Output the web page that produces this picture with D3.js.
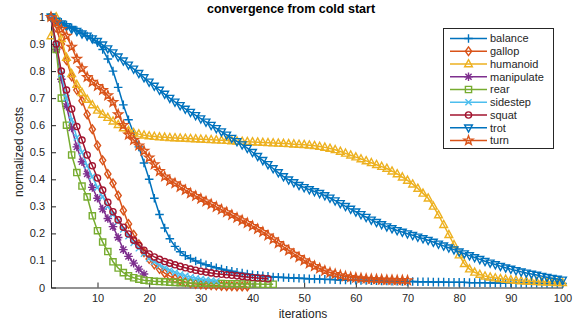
<!DOCTYPE html>
<html>
<head>
<meta charset="utf-8">
<script src="https://cdn.jsdelivr.net/npm/d3@7"></script>
<style>
  body { margin: 0; background: #fff; }
  svg text { font-family: "Liberation Sans", Arial, Helvetica, sans-serif; }
</style>
</head>
<body>
<div id="chart"></div>
<script>
// series values, one array per task (index 0 = iteration 1)
const balance = [
  1.0, 0.99, 0.98, 0.97, 0.96, 0.95, 0.94, 0.93, 0.92, 0.905,
  0.88, 0.845, 0.80, 0.74, 0.675, 0.62, 0.57, 0.52, 0.46, 0.40,
  0.33, 0.27, 0.22, 0.18, 0.152, 0.132, 0.118, 0.107, 0.098, 0.09,
  0.084, 0.078, 0.073, 0.068, 0.064, 0.06, 0.056, 0.053, 0.05, 0.047,
  0.045, 0.043, 0.041, 0.039, 0.038, 0.037, 0.036, 0.035, 0.034, 0.033,
  0.032, 0.032, 0.031, 0.030, 0.030, 0.029, 0.028, 0.028, 0.027, 0.027,
  0.026, 0.026, 0.025, 0.025, 0.024, 0.024, 0.023, 0.023, 0.022, 0.022,
  0.022, 0.021, 0.021, 0.021, 0.020, 0.020, 0.020, 0.019, 0.019, 0.019,
  0.019, 0.018, 0.018, 0.018, 0.018, 0.017, 0.017, 0.017, 0.017, 0.017,
  0.016, 0.016, 0.016, 0.016, 0.016, 0.016, 0.015, 0.015, 0.015, 0.015
];
const gallop = [
  1.0, 0.96, 0.9, 0.84, 0.78, 0.73, 0.69, 0.64, 0.585, 0.525,
  0.47, 0.42, 0.385, 0.34, 0.285, 0.235, 0.195, 0.16, 0.13, 0.105,
  0.085, 0.068, 0.053, 0.042, 0.033, 0.026, 0.02, 0.016, 0.013, 0.011,
  0.009, 0.008, 0.007, 0.006, 0.005, 0.005, 0.004, 0.004, 0.004
];
const humanoid = [
  0.93, 1.0, 0.92, 0.85, 0.79, 0.75, 0.72, 0.695, 0.675, 0.655,
  0.64, 0.628, 0.615, 0.602, 0.59, 0.58, 0.572, 0.567, 0.563, 0.56,
  0.558, 0.556, 0.555, 0.554, 0.553, 0.552, 0.551, 0.55, 0.549, 0.548,
  0.547, 0.546, 0.545, 0.544, 0.543, 0.542, 0.541, 0.54, 0.539, 0.538,
  0.537, 0.536, 0.535, 0.534, 0.533, 0.532, 0.531, 0.53, 0.529, 0.528,
  0.526, 0.524, 0.521, 0.518, 0.514, 0.509, 0.503, 0.496, 0.489, 0.482,
  0.475, 0.468, 0.461, 0.454, 0.447, 0.44, 0.43, 0.42, 0.408, 0.396,
  0.382, 0.366, 0.348, 0.33, 0.30, 0.268, 0.232, 0.195, 0.158, 0.12,
  0.088, 0.068, 0.056, 0.048, 0.042, 0.038, 0.035, 0.032, 0.03, 0.028,
  0.026, 0.024, 0.023, 0.022, 0.021, 0.02, 0.019, 0.019, 0.018, 0.018
];
const manipulate = [
  1.0, 0.88, 0.77, 0.67, 0.59, 0.52, 0.465, 0.42, 0.37, 0.33,
  0.29, 0.255, 0.225, 0.185, 0.14, 0.115, 0.09, 0.068, 0.05
];
const rear = [
  1.0, 0.88, 0.7, 0.6, 0.49, 0.425, 0.375, 0.335, 0.265, 0.21,
  0.168, 0.133, 0.095, 0.072, 0.055, 0.043, 0.036, 0.031, 0.027, 0.025,
  0.023, 0.022, 0.021, 0.02, 0.019, 0.018, 0.018, 0.017, 0.017, 0.016,
  0.016, 0.015, 0.015, 0.015, 0.014, 0.014, 0.014, 0.013, 0.013, 0.013,
  0.013, 0.012, 0.012, 0.012
];
const sidestep = [
  1.0, 0.9, 0.79, 0.7, 0.62, 0.555, 0.5, 0.45, 0.41, 0.37,
  0.335, 0.3, 0.27, 0.245, 0.215, 0.19, 0.165, 0.145, 0.125, 0.108,
  0.095, 0.083, 0.073, 0.064, 0.056, 0.049, 0.043, 0.038, 0.034, 0.031,
  0.028, 0.026, 0.024
];
const squat = [
  1.0, 0.9, 0.8, 0.73, 0.66, 0.595, 0.545, 0.49, 0.45, 0.405,
  0.36, 0.315, 0.28, 0.25, 0.223, 0.198, 0.175, 0.155, 0.138, 0.124,
  0.113, 0.104, 0.096, 0.09, 0.084, 0.078, 0.073, 0.068, 0.064, 0.06,
  0.057, 0.054, 0.051, 0.049, 0.047, 0.045, 0.043, 0.041, 0.039, 0.037,
  0.035, 0.034, 0.032
];
const trot = [
  1.0, 0.985, 0.975, 0.965, 0.955, 0.947, 0.938, 0.93, 0.92, 0.91,
  0.897, 0.883, 0.868, 0.853, 0.838, 0.823, 0.808, 0.792, 0.776, 0.76,
  0.745, 0.73, 0.715, 0.70, 0.686, 0.673, 0.66, 0.648, 0.636, 0.624,
  0.612, 0.60, 0.588, 0.576, 0.564, 0.552, 0.54, 0.528, 0.515, 0.50,
  0.485, 0.47, 0.455, 0.44, 0.425, 0.41, 0.398, 0.388, 0.378, 0.37,
  0.362, 0.355, 0.348, 0.34, 0.331, 0.321, 0.311, 0.30, 0.29, 0.28,
  0.27, 0.26, 0.25, 0.241, 0.233, 0.225, 0.218, 0.211, 0.205, 0.199,
  0.193, 0.187, 0.181, 0.175, 0.168, 0.161, 0.154, 0.147, 0.14, 0.132,
  0.125, 0.118, 0.111, 0.104, 0.097, 0.091, 0.085, 0.079, 0.073, 0.068,
  0.063, 0.058, 0.054, 0.05, 0.046, 0.042, 0.038, 0.034, 0.031, 0.028
];
const turn = [
  1.0, 0.98, 0.955, 0.93, 0.89, 0.845, 0.81, 0.778, 0.76, 0.745,
  0.73, 0.71, 0.685, 0.64, 0.6, 0.565, 0.545, 0.525, 0.505, 0.48,
  0.455, 0.43, 0.41, 0.395, 0.385, 0.372, 0.36, 0.348, 0.338, 0.328,
  0.318, 0.308, 0.298, 0.288, 0.278, 0.268, 0.258, 0.248, 0.238, 0.227,
  0.216, 0.205, 0.192, 0.178, 0.164, 0.15, 0.137, 0.124, 0.112, 0.1,
  0.089, 0.079, 0.07, 0.062, 0.055, 0.05, 0.045, 0.041, 0.038, 0.036,
  0.034, 0.032, 0.031, 0.03, 0.029, 0.028, 0.028, 0.027, 0.027, 0.026
];

const seriesNames = ["balance", "gallop", "humanoid", "manipulate", "rear", "sidestep", "squat", "trot", "turn"];
const seriesValues = [balance, gallop, humanoid, manipulate, rear, sidestep, squat, trot, turn];
const seriesColors = ["#0072BD", "#D95319", "#EDB120", "#7E2F8E", "#77AC30", "#4DBEEE", "#A2142F", "#0072BD", "#D95319"];
const seriesMarkers = ["plus", "diamond", "triangleUp", "asterisk", "square", "cross", "circle", "triangleDown", "star"];

const xTicks = [10, 20, 30, 40, 50, 60, 70, 80, 90, 100];
const yTicks = [0, 0.1, 0.2, 0.3, 0.4, 0.5, 0.6, 0.7, 0.8, 0.9, 1];

const width = 585, height = 328;
const plot = { left: 51, right: 562.5, top: 17, bottom: 287.5 };
const axisColor = "#262626";
const markerSize = 4.3;

const svg = d3.select("#chart").append("svg")
    .attr("width", width)
    .attr("height", height);

const x = d3.scaleLinear().domain([1, 100]).range([plot.left, plot.right]);
const y = d3.scaleLinear().domain([0, 1]).range([plot.bottom, plot.top]);

/*
 *  Marker shapes, roughly like the MATLAB ones.
 */
function markerPath(type, r) {
    const d = r * 0.72;
    switch(type) {
        case "plus": return `M${-r},0H${r}M0,${-r}V${r}`;
        case "diamond": return `M0,${-r}L${r * 0.72},0L0,${r}L${-r * 0.72},0Z`;
        case "triangleUp": return `M0,${-r}L${r * 0.9},${r * 0.65}L${-r * 0.9},${r * 0.65}Z`;
        case "triangleDown": return `M0,${r}L${r * 0.9},${-r * 0.65}L${-r * 0.9},${-r * 0.65}Z`;
        case "asterisk": return `M${-r},0H${r}M0,${-r}V${r}M${-d},${-d}L${d},${d}M${-d},${d}L${d},${-d}`;
        case "cross": return `M${-d},${-d}L${d},${d}M${-d},${d}L${d},${-d}`;
        case "square": return `M${-d},${-d}H${d}V${d}H${-d}Z`;
        case "circle": return `M${d},0A${d},${d} 0 1,1 ${-d},0A${d},${d} 0 1,1 ${d},0Z`;
        case "star": {
            let p = "";
            for(let i = 0; i < 10; i++) {
                let rr = i % 2 === 0 ? r * 1.1 : r * 0.45;
                let a = -Math.PI / 2 + i * Math.PI / 5;
                p += (i === 0 ? "M" : "L") + (rr * Math.cos(a)).toFixed(2) + "," + (rr * Math.sin(a)).toFixed(2);
            }
            return p + "Z";
        }
    }
}

// axes
const xAxis = d3.axisBottom(x).tickValues(xTicks).tickSize(-5).tickSizeOuter(0).tickPadding(7);
const yAxis = d3.axisLeft(y).tickValues(yTicks).tickSize(-5).tickSizeOuter(0).tickPadding(6)
    .tickFormat(d => d === 0 ? "0" : d === 1 ? "1" : d3.format(".1f")(d));

const gx = svg.append("g").attr("transform", `translate(0,${plot.bottom})`).call(xAxis);
const gy = svg.append("g").attr("transform", `translate(${plot.left},0)`).call(yAxis);

[gx, gy].forEach(g => {
    g.select(".domain").attr("stroke", axisColor).attr("stroke-width", 1);
    g.selectAll(".tick line").attr("stroke", axisColor).attr("stroke-width", 1);
    g.selectAll(".tick text").attr("fill", axisColor).attr("font-size", 11);
});

// series
const line = d3.line().x((d, i) => x(i + 1)).y(d => y(d));

seriesValues.forEach((vals, s) => {
    const g = svg.append("g");
    g.append("path")
        .attr("d", line(vals))
        .attr("fill", "none")
        .attr("stroke", seriesColors[s])
        .attr("stroke-width", 1.5);
    g.selectAll("path.m")
        .data(vals)
        .join("path")
        .attr("class", "m")
        .attr("d", markerPath(seriesMarkers[s], markerSize))
        .attr("transform", (d, i) => `translate(${x(i + 1)},${y(d)})`)
        .attr("fill", "none")
        .attr("stroke", seriesColors[s])
        .attr("stroke-width", 1.4);
});

// labels
svg.append("text")
    .attr("x", 291).attr("y", 12.5)
    .attr("text-anchor", "middle")
    .attr("font-size", 12.5).attr("font-weight", "bold")
    .attr("fill", "#000")
    .text("convergence from cold start");

svg.append("text")
    .attr("x", 303).attr("y", 318)
    .attr("text-anchor", "middle")
    .attr("font-size", 12)
    .attr("fill", axisColor)
    .text("iterations");

svg.append("text")
    .attr("transform", "translate(23,152) rotate(-90)")
    .attr("text-anchor", "middle")
    .attr("font-size", 12)
    .attr("fill", axisColor)
    .text("normalized costs");

// legend
const legend = svg.append("g");
legend.append("rect")
    .attr("x", 443.5).attr("y", 28.5)
    .attr("width", 110).attr("height", 120)
    .attr("fill", "#fff")
    .attr("stroke", axisColor)
    .attr("stroke-width", 1);

seriesNames.forEach((name, s) => {
    const ly = 38.5 + s * 12.75;
    legend.append("line")
        .attr("x1", 450).attr("x2", 487)
        .attr("y1", ly).attr("y2", ly)
        .attr("stroke", seriesColors[s])
        .attr("stroke-width", 1.5);
    legend.append("path")
        .attr("d", markerPath(seriesMarkers[s], markerSize))
        .attr("transform", `translate(468.5,${ly})`)
        .attr("fill", "none")
        .attr("stroke", seriesColors[s])
        .attr("stroke-width", 1.4);
    legend.append("text")
        .attr("x", 490).attr("y", ly)
        .attr("dy", "0.35em")
        .attr("font-size", 11)
        .attr("fill", axisColor)
        .text(name);
});
</script>
</body>
</html>
